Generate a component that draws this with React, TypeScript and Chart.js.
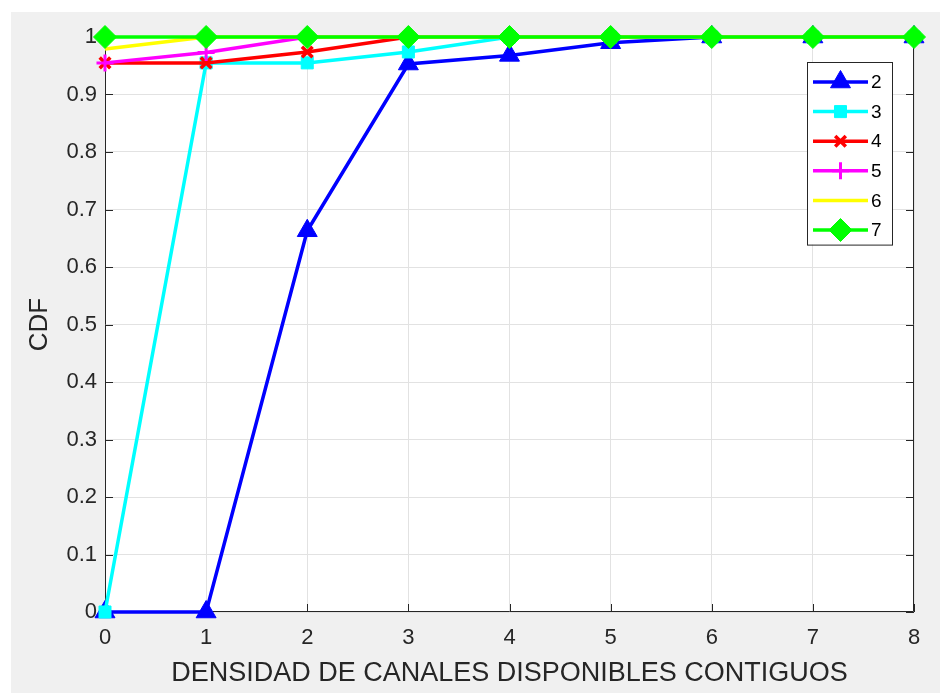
import React, { useEffect, useRef } from 'react';
import { Chart, registerables } from 'chart.js';
import { drawPoint } from 'chart.js/helpers';

Chart.register(...registerables);

// ---- data ----
const xValues = [0, 1, 2, 3, 4, 5, 6, 7, 8];
const seriesLabels = ['2', '3', '4', '5', '6', '7'];
const series2 = [0, 0, 0.663, 0.953, 0.968, 0.99, 1, 1, 1];
const series3 = [0, 0.955, 0.955, 0.974, 1, 1, 1, 1, 1];
const series4 = [0.955, 0.955, 0.974, 1, 1, 1, 1, 1, 1];
const series5 = [0.955, 0.973, 1, 1, 1, 1, 1, 1, 1];
const series6 = [0.979, 1, 1, 1, 1, 1, 1, 1, 1];
const series7 = [1, 1, 1, 1, 1, 1, 1, 1, 1];
const allSeries = [series2, series3, series4, series5, series6, series7];
const xTitle = 'DENSIDAD DE CANALES DISPONIBLES CONTIGUOS';
const yTitle = 'CDF';

// ---- styles ----
const FONT = '"Liberation Sans", Arial, Helvetica, sans-serif';
const AXIS = '#262626';
const styles = [
  { color: '#0000ff', pointStyle: 'triangle', radius: 11.5, pbw: 1 },
  { color: '#00ffff', pointStyle: 'rect', radius: 8.5, pbw: 1 },
  { color: '#ff0000', pointStyle: 'crossRot', radius: 7.5, pbw: 3.5 },
  { color: '#ff00ff', pointStyle: 'cross', radius: 8.5, pbw: 3 },
  { color: '#ffff00', pointStyle: false, radius: 0, pbw: 0 },
  { color: '#00ff00', pointStyle: 'rectRot', radius: 11.5, pbw: 1 },
];

const fmt = (v: number) => String(Math.round(v * 10) / 10);

const framePlugin = {
  id: 'matlabFrame',
  beforeDraw(chart: any) {
    const { ctx, width, height, chartArea: a } = chart;
    ctx.save();
    ctx.fillStyle = '#ffffff';
    ctx.fillRect(0, 0, width, height);
    ctx.fillStyle = '#f0f0f0';
    ctx.fillRect(11, 12, width - 11, height - 14);
    ctx.fillStyle = '#ffffff';
    ctx.fillRect(a.left, a.top, a.right - a.left, a.bottom - a.top);
    ctx.restore();
  },
  beforeDatasetsDraw(chart: any) {
    const { ctx, chartArea: a, scales } = chart;
    const tl = 8;
    ctx.save();
    ctx.strokeStyle = AXIS;
    ctx.lineWidth = 1;
    ctx.beginPath();
    ctx.rect(a.left + 0.5, a.top + 0.5, a.right - a.left - 1, a.bottom - a.top - 1);
    ctx.stroke();
    ctx.beginPath();
    scales.x.ticks.forEach((t: any) => {
      const px = Math.round(scales.x.getPixelForValue(t.value)) + 0.5;
      ctx.moveTo(px, a.bottom);
      ctx.lineTo(px, a.bottom - tl);
      ctx.moveTo(px, a.top);
      ctx.lineTo(px, a.top + tl);
    });
    scales.y.ticks.forEach((t: any) => {
      const py = Math.round(scales.y.getPixelForValue(t.value)) + 0.5;
      ctx.moveTo(a.left, py);
      ctx.lineTo(a.left + tl, py);
      ctx.moveTo(a.right, py);
      ctx.lineTo(a.right - tl, py);
    });
    ctx.stroke();
    ctx.restore();
  },
  afterDatasetsDraw(chart: any) {
    const { ctx, chartArea: a } = chart;
    const ds = chart.data.datasets;
    const boxW = 85;
    const rowH = 29.6;
    const boxH = rowH * ds.length + 5;
    const bx = a.right - 22 - boxW;
    const by = a.top + 25;
    ctx.save();
    ctx.fillStyle = '#ffffff';
    ctx.fillRect(bx, by, boxW, boxH);
    ctx.strokeStyle = AXIS;
    ctx.lineWidth = 1;
    ctx.strokeRect(bx + 0.5, by + 0.5, boxW, boxH);
    ds.forEach((d: any, i: number) => {
      const cy = by + 20 + rowH * i;
      const x0 = bx + 6;
      const x1 = bx + 61;
      ctx.strokeStyle = d.borderColor;
      ctx.lineWidth = d.borderWidth;
      ctx.beginPath();
      ctx.moveTo(x0, cy);
      ctx.lineTo(x1, cy);
      ctx.stroke();
      if (d.pointStyle) {
        ctx.fillStyle = d.pointBackgroundColor;
        ctx.strokeStyle = d.pointBorderColor;
        ctx.lineWidth = d.pointBorderWidth;
        drawPoint(ctx, { pointStyle: d.pointStyle, radius: d.pointRadius, rotation: 0, borderWidth: d.pointBorderWidth }, (x0 + x1) / 2, cy);
      }
      ctx.fillStyle = '#000000';
      ctx.font = `19px ${FONT}`;
      ctx.textBaseline = 'middle';
      ctx.textAlign = 'left';
      ctx.fillText(d.label, x1 + 3, cy + 1);
    });
    ctx.restore();
  },
};

export default function App() {
  const ref = useRef<HTMLCanvasElement | null>(null);

  useEffect(() => {
    if (!ref.current) return;
    const datasets = allSeries.map((vals, i) => {
      const s = styles[i];
      return {
        label: seriesLabels[i],
        data: xValues.map((x, j) => ({ x, y: vals[j] })),
        borderColor: s.color,
        backgroundColor: s.color,
        borderWidth: 3.5,
        pointStyle: s.pointStyle as any,
        pointRadius: s.radius,
        pointBackgroundColor: s.color,
        pointBorderColor: s.color,
        pointBorderWidth: s.pbw,
        pointHoverRadius: s.radius,
        tension: 0,
        clip: false as any,
        order: allSeries.length - i,
      };
    });
    const chart = new Chart(ref.current, {
      type: 'line',
      data: { datasets },
      plugins: [framePlugin],
      options: {
        animation: false,
        responsive: false,
        events: [],
        layout: { padding: { top: 37, right: 26, left: 0, bottom: 0 } },
        plugins: { legend: { display: false }, tooltip: { enabled: false } },
        scales: {
          x: {
            type: 'linear',
            min: 0,
            max: 8,
            ticks: { stepSize: 1, color: AXIS, font: { family: FONT, size: 22 }, padding: 13, callback: (v: any) => fmt(Number(v)) },
            grid: { color: '#e2e2e2', drawTicks: false },
            border: { display: false },
            title: { display: true, text: xTitle, color: AXIS, font: { family: FONT, size: 27 }, padding: { top: 0, bottom: 5 } },
            afterFit: (s: any) => { s.height = 83; },
          },
          y: {
            type: 'linear',
            min: 0,
            max: 1,
            ticks: { stepSize: 0.1, color: AXIS, font: { family: FONT, size: 22 }, padding: 8, callback: (v: any) => fmt(Number(v)) },
            grid: { color: '#e2e2e2', drawTicks: false },
            border: { display: false },
            title: { display: true, text: yTitle, color: AXIS, font: { family: FONT, size: 26 }, padding: { top: 24, bottom: 0 } },
            afterFit: (s: any) => { s.width = 105; },
          },
        },
      },
    });
    return () => chart.destroy();
  }, []);

  return (
    <div style={{ position: 'fixed', left: 0, top: 0, width: 940, height: 695 }}>
      <canvas ref={ref} width={940} height={695} />
    </div>
  );
}
